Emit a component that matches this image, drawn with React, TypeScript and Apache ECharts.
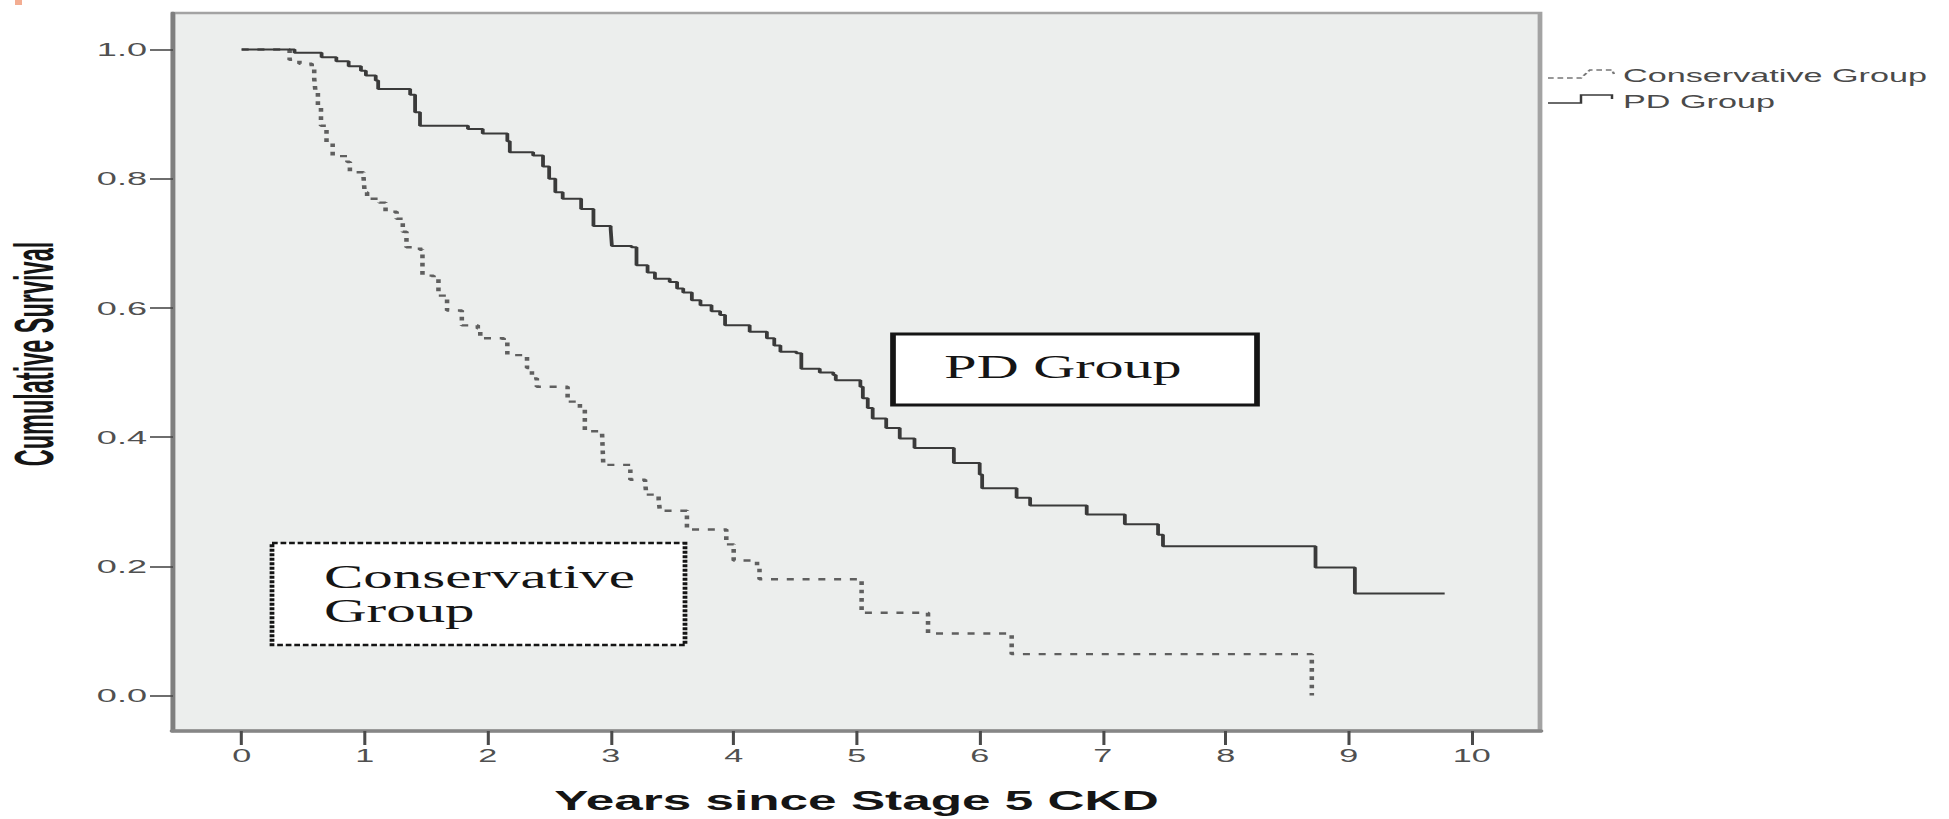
import { useEffect, useRef } from "react";
import * as echarts from "echarts";

// ---- data -------------------------------------------------------------
const xTicks = [0, 1, 2, 3, 4, 5, 6, 7, 8, 9, 10];
const yTicks = [0, 0.2, 0.4, 0.6, 0.8, 1.0];
const seriesNames = ["Conservative Group", "PD Group"];
const xAxisTitle = "Years since Stage 5 CKD";
const yAxisTitle = "Cumulative Survival";

// Kaplan–Meier estimate after each event (years, cumulative survival)
const conservativeYears = [
  0, 0.39, 0.47, 0.57, 0.59, 0.6, 0.62, 0.645, 0.69, 0.74,
  0.86, 0.88, 0.99, 1.0, 1.02, 1.12, 1.17, 1.26, 1.31, 1.34,
  1.45, 1.47, 1.56, 1.6, 1.67, 1.79, 1.92, 1.94, 2.13, 2.16,
  2.3, 2.32, 2.36, 2.4, 2.65, 2.75, 2.79, 2.93, 2.94, 3.16,
  3.28, 3.29, 3.39, 3.4, 3.62, 3.94, 4.0, 4.19, 4.21, 5.04,
  5.58, 6.26, 8.7,
];
const conservativeSurvival = [
  1.0, 0.984, 0.978, 0.972, 0.955, 0.935, 0.91, 0.882, 0.856, 0.835,
  0.826, 0.81, 0.805, 0.779, 0.769, 0.763, 0.749, 0.738, 0.718, 0.694,
  0.69, 0.65, 0.645, 0.619, 0.596, 0.573, 0.568, 0.553, 0.548, 0.527,
  0.524, 0.507, 0.491, 0.478, 0.455, 0.445, 0.409, 0.406, 0.357, 0.334,
  0.33, 0.311, 0.303, 0.286, 0.257, 0.234, 0.209, 0.2, 0.18, 0.128,
  0.096, 0.064, 0.0,
];

const pdYears = [
  0, 0.43, 0.65, 0.77, 0.87, 0.97, 1.01, 1.09, 1.11, 1.37,
  1.41, 1.45, 1.84, 1.96, 2.16, 2.18, 2.37, 2.45, 2.5, 2.55,
  2.61, 2.76, 2.86, 3.0, 3.01, 3.17, 3.21, 3.3, 3.36, 3.48,
  3.54, 3.59, 3.66, 3.73, 3.82, 3.89, 3.93, 4.13, 4.27, 4.33,
  4.38, 4.51, 4.55, 4.7, 4.81, 4.83, 5.03, 5.05, 5.09, 5.13,
  5.24, 5.35, 5.47, 5.79, 6.0, 6.02, 6.3, 6.41, 6.87, 7.18,
  7.45, 7.49, 8.73, 9.05, 9.78,
];
const pdSurvival = [
  1.0, 0.995, 0.988, 0.982, 0.974, 0.967, 0.96, 0.952, 0.939, 0.93,
  0.903, 0.882, 0.877, 0.87, 0.858, 0.841, 0.836, 0.819, 0.8, 0.779,
  0.769, 0.753, 0.727, 0.722, 0.696, 0.694, 0.666, 0.655, 0.645, 0.64,
  0.63, 0.624, 0.612, 0.604, 0.595, 0.589, 0.573, 0.563, 0.553, 0.542,
  0.532, 0.53, 0.506, 0.5, 0.496, 0.488, 0.478, 0.46, 0.445, 0.429,
  0.414, 0.398, 0.383, 0.36, 0.342, 0.321, 0.306, 0.294, 0.28, 0.265,
  0.249, 0.231, 0.198, 0.158, 0.158,
];

// ---- layout -----------------------------------------------------------
const PAGE_W = 1949;
const PAGE_H = 819;
// The figure is drawn at natural width and stretched horizontally.
const STRETCH = 1.9;
const sx = (v: number) => v / STRETCH;

const X_MIN = -0.558;
const X_MAX = 10.555;
const Y_MIN = -0.055;
const Y_MAX = 1.0566;

const SANS = '"Liberation Sans", Arial, Helvetica, sans-serif';
const SERIF = '"Liberation Serif", "Times New Roman", Times, serif';

const pairs = (xs: number[], ys: number[]) => xs.map((x, i) => [x, ys[i]]);

function buildOption() {
  const plot = { left: 173, top: 13, right: 1540, bottom: 734 };

  const text = (
    x: number,
    y: number,
    t: string,
    o: Record<string, unknown> = {},
    style: Record<string, unknown> = {}
  ) => ({
    type: "text",
    x: sx(x),
    y,
    z: 100,
    ...o,
    style: {
      text: t,
      fill: "#111",
      textAlign: "left",
      align: "left",
      textVerticalAlign: "middle",
      verticalAlign: "middle",
      ...style,
    },
  });

  const graphics = [
    // small mark in the top-left corner
    {
      type: "rect",
      z: 100,
      shape: { x: sx(15), y: 0, width: sx(7), height: 5 },
      style: { fill: "#f3ad92" },
    },
    // vertical axis title
    text(34.5, 354, yAxisTitle, { rotation: Math.PI / 2, scaleX: 0.81 }, {
      fontFamily: SANS,
      fontWeight: "bold",
      fontSize: 29,
      textAlign: "center",
      align: "center",
      fill: "#151515",
    }),
    // legend keys
    {
      type: "polyline",
      z: 100,
      shape: {
        points: [
          [sx(1548), 78],
          [sx(1581), 78],
          [sx(1590), 70],
          [sx(1612), 70],
          [sx(1614), 74],
        ],
      },
      style: { stroke: "#777", lineWidth: 1.3, lineDash: [3, 2], fill: null },
    },
    text(1623, 75.5, seriesNames[0], {}, { fontFamily: SANS, fontSize: 18, fill: "#4a4a4a" }),
    {
      type: "polyline",
      z: 100,
      shape: {
        points: [
          [sx(1548), 103],
          [sx(1581), 103],
          [sx(1581), 95],
          [sx(1612), 95],
          [sx(1612), 99],
        ],
      },
      style: { stroke: "#3a3a3a", lineWidth: 1.3, fill: null },
    },
    text(1623, 101.5, seriesNames[1], {}, { fontFamily: SANS, fontSize: 18, fill: "#4a4a4a" }),
    // "Conservative Group" callout
    {
      type: "rect",
      z: 90,
      shape: { x: sx(272), y: 543, width: sx(685 - 272), height: 102 },
      style: { fill: "#ffffff", stroke: "#151515", lineWidth: 2.5, lineDash: [3, 1.5] },
    },
    text(324, 577, "Conservative", { scaleX: 0.94 }, { fontFamily: SERIF, fontSize: 33, fill: "#151515" }),
    text(324, 611, "Group", { scaleX: 0.94 }, { fontFamily: SERIF, fontSize: 33, fill: "#151515" }),
    // "PD Group" callout
    {
      type: "rect",
      z: 90,
      shape: { x: sx(893), y: 334, width: sx(1257 - 893), height: 71 },
      style: { fill: "#ffffff", stroke: "#151515", lineWidth: 3 },
    },
    text(1063, 367, "PD Group", { scaleX: 0.9 }, {
      fontFamily: SERIF,
      fontSize: 34,
      textAlign: "center",
      align: "center",
      fill: "#151515",
    }),
  ];

  return {
    animation: false,
    backgroundColor: "#ffffff",
    textStyle: { fontFamily: SANS },
    grid: {
      left: sx(plot.left),
      top: plot.top,
      width: sx(plot.right - plot.left),
      height: plot.bottom - plot.top,
      show: true,
      backgroundColor: "#eceeed",
      borderColor: "#a3a3a3",
      borderWidth: 2.5,
    },
    xAxis: {
      type: "value",
      min: X_MIN,
      max: X_MAX,
      position: "bottom",
      axisLine: { show: true, onZero: false, lineStyle: { color: "#868686", width: 3.5 } },
      axisTick: {
        show: true,
        customValues: xTicks,
        length: 14,
        lineStyle: { color: "#4a4a4a", width: 1.6 },
      },
      axisLabel: {
        customValues: xTicks,
        margin: 16,
        fontSize: 18,
        fontFamily: SANS,
        color: "#505050",
      },
      splitLine: { show: false },
      name: xAxisTitle,
      nameLocation: "middle",
      nameGap: 56,
      nameTextStyle: { fontFamily: SANS, fontWeight: "bold", fontSize: 27, color: "#151515" },
    },
    yAxis: {
      type: "value",
      min: Y_MIN,
      max: Y_MAX,
      position: "left",
      axisLine: { show: true, onZero: false, lineStyle: { color: "#7f7f7f", width: 2.4 } },
      axisTick: {
        show: true,
        customValues: yTicks,
        length: sx(23),
        lineStyle: { color: "#4a4a4a", width: 1.6 },
      },
      axisLabel: {
        customValues: yTicks,
        margin: sx(26),
        fontSize: 19,
        fontFamily: SANS,
        color: "#505050",
        formatter: (v: number) => v.toFixed(1),
      },
      splitLine: { show: false },
    },
    series: [
      {
        type: "line",
        name: seriesNames[0],
        data: pairs(conservativeYears, conservativeSurvival),
        step: "end",
        symbol: "none",
        lineStyle: { color: "#5f5f5f", width: 2.4, type: [3.7, 4.6] },
        z: 3,
      },
      {
        type: "line",
        name: seriesNames[1],
        data: pairs(pdYears, pdSurvival),
        step: "end",
        symbol: "none",
        lineStyle: { color: "#3a3a3a", width: 2 },
        z: 4,
      },
    ],
    graphic: { elements: graphics },
  };
}

export default function App() {
  const ref = useRef<HTMLDivElement>(null);

  useEffect(() => {
    if (!ref.current) return;
    const chart = echarts.init(ref.current, null, { renderer: "svg" });
    chart.setOption(buildOption() as any);
    return () => chart.dispose();
  }, []);

  return (
    <div
      style={{
        position: "absolute",
        left: 0,
        top: 0,
        width: PAGE_W,
        height: PAGE_H,
        overflow: "hidden",
        background: "#ffffff",
      }}
    >
      <div
        ref={ref}
        style={{
          width: PAGE_W / STRETCH,
          height: PAGE_H,
          transform: `scaleX(${STRETCH})`,
          transformOrigin: "0 0",
        }}
      />
    </div>
  );
}
